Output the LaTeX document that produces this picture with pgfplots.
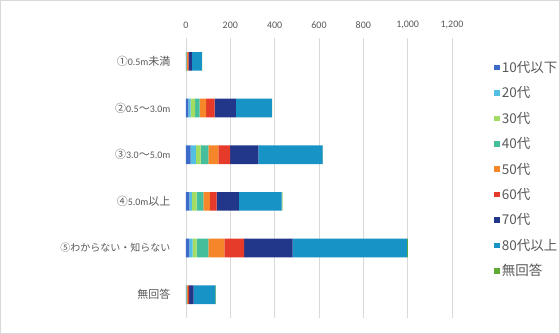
\documentclass[border=0pt]{standalone}
\usepackage{pgfplots}
\pgfplotsset{compat=1.18}
\usepackage{fontspec}
\setmainfont{Carlito}
\newfontfamily\jp{Noto Sans CJK JP}

\definecolor{cA}{HTML}{3D6BC9}
\definecolor{cB}{HTML}{55BFE3}
\definecolor{cC}{HTML}{A3DC62}
\definecolor{cD}{HTML}{45BE9C}
\definecolor{cE}{HTML}{F5862A}
\definecolor{cF}{HTML}{E63A2A}
\definecolor{cG}{HTML}{22378A}
\definecolor{cH}{HTML}{1793C6}
\definecolor{cI}{HTML}{5EAA35}
\definecolor{txt}{HTML}{595959}
\definecolor{grd}{HTML}{D9D9D9}

\newcommand\J[1]{{\jp\fontsize{11}{13}\selectfont #1}}

\begin{document}
\begin{tikzpicture}
% page frame; the plot area's lower left corner sits at the origin
\path[use as bounding box, clip] (-186pt,-16pt) rectangle (374pt,318pt);
\fill[white] (-186pt,-16pt) rectangle (374pt,318pt);
\draw[grd, line width=0.8pt] (-185.5pt,-15.5pt) rectangle (373.5pt,317.5pt);
\begin{axis}[
  width=266pt, height=280pt, scale only axis,
  xbar stacked, bar width=0.4,
  xmin=0, xmax=1200,
  xtick={0,200,...,1200},
  ymin=-0.5, ymax=5.5, y dir=reverse,
  ytick={0,1,2,3,4,5},
  yticklabels={
    \J{①}0.5m\J{未満},
    \J{②}0.5\J{～}3.0m,
    \J{③}3.0\J{～}5.0m,
    \J{④}5.0m\J{以上},
    {\jp ⑤わからない・知らない},
    \J{無回答}},
  axis x line*=top,
  axis y line*=left,
  x axis line style={draw=none},
  y axis line style={draw=grd, line width=0.8pt},
  major tick length=0pt,
  xmajorgrids, grid style={grd, line width=0.8pt},
  /pgf/number format/1000 sep={,},
  /pgf/number format/assume math mode=true,
  tick label style={font=\fontsize{10}{12}\selectfont, text=txt},
  xticklabel style={yshift=6pt},
  yticklabel style={xshift=-12pt},
  legend style={at={(1,1)}, anchor=north west, xshift=42pt, yshift=-19pt,
    draw=none, fill=none, font=\jp\fontsize{13.5}{16}\selectfont, text=txt,
    row sep=8.7pt, inner xsep=0pt},
  legend cell align=left,
  legend image code/.code={\fill[#1] (0pt,-2.8pt) rectangle (5.6pt,2.8pt);},
  every axis plot/.append style={draw=none},
]
\addplot[fill=cA] coordinates {(1,0) (11,1) (21,2) (15,3) (15,4) (1,5)};
\addplot[fill=cB] coordinates {(1,0) (10,1) (24,2) (12,3) (15,4) (1,5)};
\addplot[fill=cC] coordinates {(1,0) (20,1) (21,2) (21,3) (18,4) (1,5)};
\addplot[fill=cD] coordinates {(1,0) (20,1) (35,2) (30,3) (53,4) (2,5)};
\addplot[fill=cE] coordinates {(4,0) (30,1) (45,2) (30,3) (72,4) (3,5)};
\addplot[fill=cF] coordinates {(4,0) (38,1) (53,2) (30,3) (89,4) (6,5)};
\addplot[fill=cG] coordinates {(15,0) (96,1) (128,2) (101,3) (219,4) (20,5)};
\addplot[fill=cH] coordinates {(45,0) (162,1) (289,2) (192,3) (517,4) (98,5)};
\addplot[fill=cI] coordinates {(1,0) (2,1) (2,2) (4,3) (3,4) (3,5)};
\legend{10代以下,20代,30代,40代,50代,60代,70代,80代以上,無回答}
\end{axis}
\end{tikzpicture}
\end{document}
